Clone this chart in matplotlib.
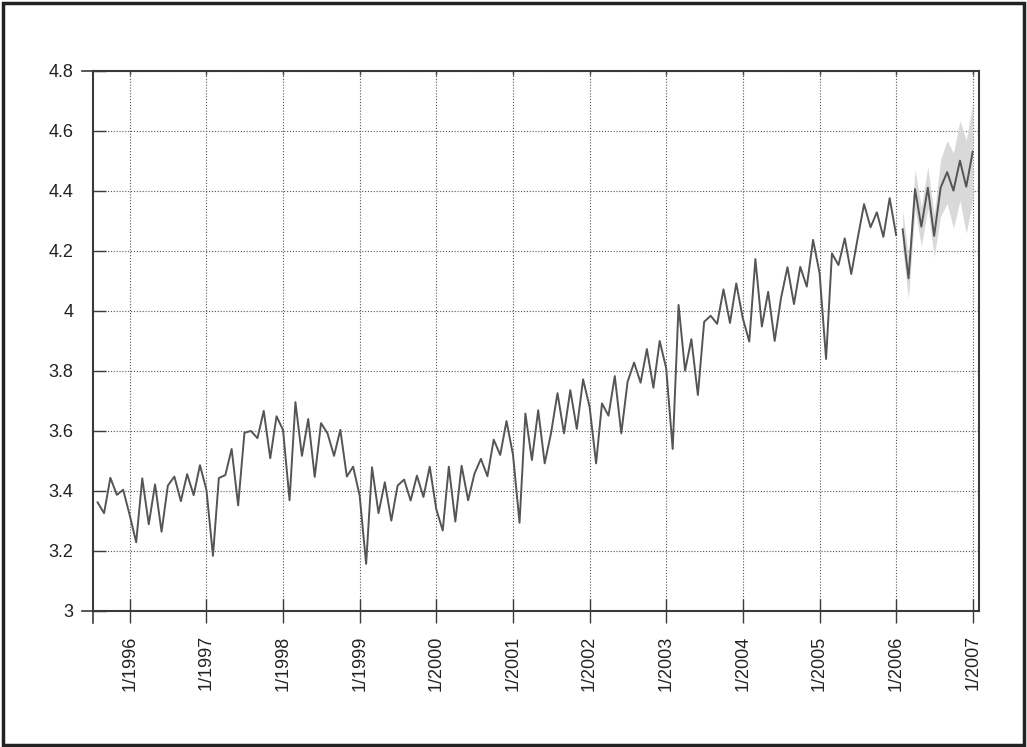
import numpy as np
import pandas as pd
import matplotlib
matplotlib.use('Agg')
import matplotlib.pyplot as plt
from matplotlib.ticker import FuncFormatter
from matplotlib.patches import Rectangle

plt.rcParams['font.family'] = ['Liberation Sans', 'DejaVu Sans']

### monthly history, Aug 1995 .. Jan 2006
hist_start = '1995-08-01'
hist_values = [
    3.362, 3.326, 3.444, 3.387, 3.404,
    3.320, 3.229, 3.442, 3.289, 3.422, 3.264, 3.418, 3.448, 3.366, 3.456, 3.386, 3.486,
    3.403, 3.184, 3.443, 3.453, 3.540, 3.352, 3.594, 3.600, 3.576, 3.667, 3.509, 3.649,
    3.603, 3.369, 3.696, 3.517, 3.640, 3.447, 3.626, 3.592, 3.517, 3.604, 3.448, 3.481,
    3.385, 3.157, 3.479, 3.326, 3.429, 3.301, 3.418, 3.438, 3.368, 3.451, 3.380, 3.481,
    3.340, 3.268, 3.481, 3.298, 3.484, 3.369, 3.457, 3.507, 3.449, 3.571, 3.520, 3.633,
    3.520, 3.294, 3.658, 3.503, 3.669, 3.492, 3.592, 3.726, 3.592, 3.736, 3.607, 3.772,
    3.680, 3.492, 3.692, 3.651, 3.783, 3.592, 3.764, 3.828, 3.761, 3.873, 3.744, 3.900,
    3.809, 3.540, 4.020, 3.801, 3.906, 3.720, 3.964, 3.984, 3.957, 4.072, 3.960, 4.092,
    3.976, 3.898, 4.173, 3.948, 4.064, 3.900, 4.042, 4.146, 4.023, 4.147, 4.081, 4.237,
    4.126, 3.840, 4.192, 4.153, 4.242, 4.123, 4.240, 4.356, 4.279, 4.329, 4.247, 4.376,
    4.253,
]

### forecast, Feb 2006 .. Jan 2007, with its band
fc_start = '2006-02-01'
fc_values = [4.272, 4.109, 4.406, 4.281, 4.411, 4.250, 4.411, 4.463, 4.401, 4.501, 4.414, 4.531]
fc_lower = [4.207, 4.041, 4.340, 4.216, 4.341, 4.180, 4.316, 4.358, 4.276, 4.368, 4.259, 4.368]
fc_upper = [4.337, 4.177, 4.472, 4.346, 4.481, 4.320, 4.506, 4.568, 4.526, 4.634, 4.569, 4.694]

tick_years = list(range(1996, 2008))
y_ticks = [3, 3.2, 3.4, 3.6, 3.8, 4, 4.2, 4.4, 4.6, 4.8]

hist_dates = pd.date_range(hist_start, periods=len(hist_values), freq='MS')
fc_dates = pd.date_range(fc_start, periods=len(fc_values), freq='MS')

fig = plt.figure(figsize=(10.27, 7.47), dpi=100)
ax = fig.add_axes([0.0903, 0.1821, 0.9533 - 0.0903, 0.9050 - 0.1821])

line_color = '#555555'
edge = '#3a3a3a'

### band first, lines on top
ax.fill_between(fc_dates, fc_lower, fc_upper, color='#d9d9d9', linewidth=0, zorder=2)
ax.plot(hist_dates, hist_values, color=line_color, linewidth=1.4, zorder=3)
ax.plot(fc_dates, fc_values, color=line_color, linewidth=1.4, zorder=3)

### limits
ax.set_xlim(pd.Timestamp('1995-07-09'), pd.Timestamp('2007-01-31'))
ax.set_ylim(3, 4.8)

### ticks
x_tick_dates = [pd.Timestamp(f'{y}-01-01') for y in tick_years]
ax.set_xticks(x_tick_dates)
ax.set_xticklabels([f'1/{y}' for y in tick_years], rotation=90)
ax.set_yticks(y_ticks)
ax.yaxis.set_major_formatter(FuncFormatter(lambda v, p: '%g' % v))

ax.tick_params(axis='x', direction='inout', length=17, width=1.0, color=edge,
               labelsize=13, pad=9, labelcolor='#222222')
ax.tick_params(axis='y', direction='in', length=9.5, width=1.0, color=edge,
               labelsize=13, pad=14, labelcolor='#222222')

### small inward ticks along the top
top = ax.secondary_xaxis('top')
top.set_xticks(x_tick_dates)
top.tick_params(axis='x', direction='in', length=3, width=1.0, color=edge, labeltop=False)
top.spines['top'].set_visible(False)

### dotted grid
ax.grid(True, color='#555555', linestyle=(0, (1, 1.6)), linewidth=0.8, zorder=1)
ax.set_axisbelow(True)

### spines
for side in ['top', 'bottom', 'left', 'right']:
    ax.spines[side].set_color(edge)
    ax.spines[side].set_linewidth(1.5)

### extend the frame lines a little past the corners
ext = 0.0125
ax.plot([-ext, 0], [0, 0], transform=ax.transAxes, color=edge, linewidth=1.2, clip_on=False)
ax.plot([-ext, 0], [1, 1], transform=ax.transAxes, color=edge, linewidth=1.2, clip_on=False)
ax.plot([0, 0], [-0.022, 0], transform=ax.transAxes, color=edge, linewidth=1.2, clip_on=False)

### border round the whole figure
fig.patches.append(Rectangle((0.003, 0.003), 0.994, 0.993, transform=fig.transFigure,
                             fill=False, edgecolor='#222222', linewidth=2.5))

plt.savefig('out.png', dpi=100)
